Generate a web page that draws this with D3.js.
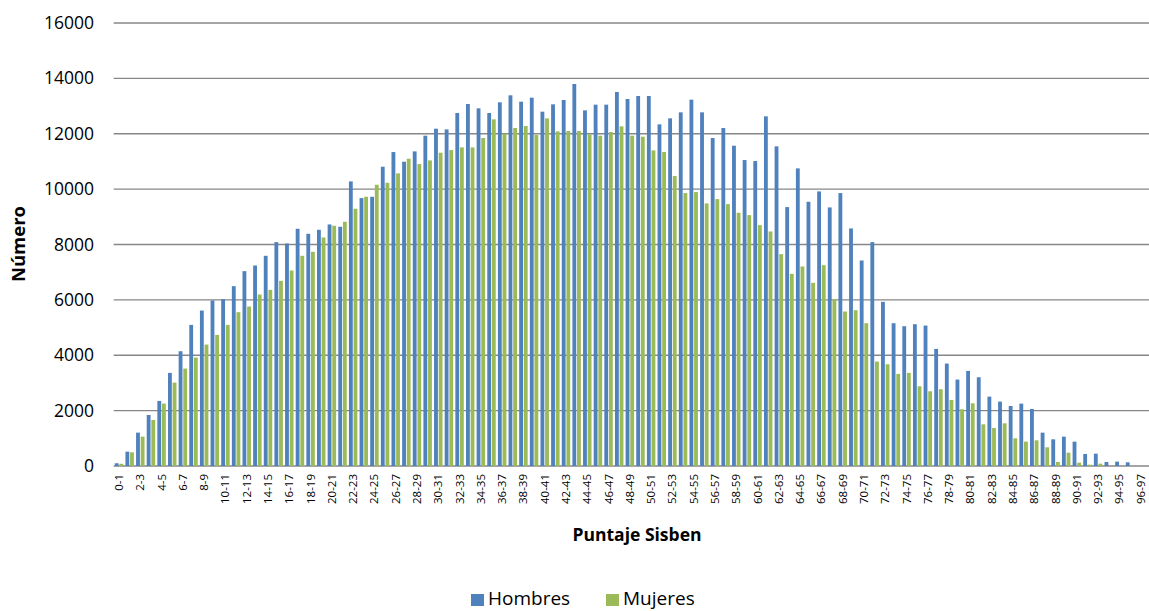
<!DOCTYPE html>
<html><head><meta charset="utf-8">
<script src="https://cdn.jsdelivr.net/npm/d3@7"></script>
<style>body{margin:0;background:#fff;} text{font-family:"Open Sans","Noto Sans",sans-serif;}</style>
</head><body><svg id="c" width="1149" height="611"></svg>
<script>
const categories = Array.from({length:97}, (_, i) => `${i}-${i+1}`);
const hombres = [100,518,1205,1843,2350,3362,4145,5097,5615,5977,6025,6495,7037,7242,7592,8086,8037,8568,8387,8531,8724,8640,10279,9676,9724,10809,11339,10990,11363,11930,12183,12158,12749,13074,12918,12749,13135,13388,13159,13304,12797,13062,13219,13797,12845,13050,13050,13508,13255,13363,13363,12339,12556,12773,13231,12773,11845,12207,11568,11050,11014,12629,11544,9351,10749,9544,9917,9339,9857,8580,7423,8086,5929,5157,5049,5121,5073,4230,3699,3121,3434,3205,2506,2326,2169,2253,2060,1205,964,1060,880,434,446,145,157,133,0];
const mujeres = [80,494,1060,1663,2253,3012,3518,3916,4386,4736,5097,5555,5760,6194,6362,6688,7061,7592,7736,8254,8676,8821,9291,9724,10158,10230,10568,11098,10905,11038,11315,11411,11508,11508,11845,12520,12002,12207,12279,11954,12556,12086,12098,12098,11978,11930,12062,12267,11930,11893,11399,11339,10472,9857,9893,9484,9640,9459,9146,9062,8700,8471,7652,6941,7206,6616,7254,6025,5579,5627,5157,3772,3675,3326,3362,2880,2699,2772,2386,2049,2265,1506,1374,1542,1000,880,928,675,145,482,120,48,84,0,0,0,0];
const yTicks = [0,2000,4000,6000,8000,10000,12000,14000,16000];
const seriesNames = ["Hombres","Mujeres"];
const colors = ["#4F81BD","#9BBB59"];

(function(){
const svg = d3.select("#c");
const mLeft = 113.7, mRight = 1146, mTop = 23, mBottom = 466;
const x = d3.scaleBand().domain(categories).range([mLeft, mRight]).paddingInner(0).paddingOuter(0);
const y = d3.scaleLinear().domain([0,16000]).range([mBottom, mTop]);
const bw = x.bandwidth();
const barW = bw * 0.36;

svg.append("g").selectAll("line").data(yTicks).join("line")
  .attr("x1", mLeft).attr("x2", 1149).attr("y1", d => y(d)).attr("y2", d => y(d))
  .attr("stroke", "#878787").attr("stroke-width", 1.3);

const yAxis = d3.axisLeft(y).tickValues(yTicks).tickSize(0).tickPadding(0).tickFormat(d3.format("d"));
const ya = svg.append("g").attr("transform", `translate(94,0)`).call(yAxis);
ya.select(".domain").remove();
ya.selectAll("text").attr("font-size", 17.5).attr("fill", "#000").attr("font-family", "'Open Sans',sans-serif");

const data = categories.map((c, i) => ({c, v: [hombres[i], mujeres[i]]}));
const g = svg.append("g");
[0,1].forEach(s => {
  g.selectAll(".b"+s).data(data).join("rect").attr("class","b"+s)
    .attr("x", d => x(d.c) + bw/2 - barW + s*barW + (s===0 ? -0.4 : 0.4))
    .attr("width", barW)
    .attr("y", d => y(d.v[s]))
    .attr("height", d => mBottom - y(d.v[s]))
    .attr("fill", colors[s]);
});

const xAxis = d3.axisBottom(x).tickValues(categories.filter((d,i)=> i%2===0)).tickSize(0).tickPadding(0);
const xa = svg.append("g").attr("transform", `translate(0,${mBottom})`).call(xAxis);
xa.select(".domain").remove();
xa.selectAll("text")
  .attr("font-size", 11.5).attr("fill", "#000")
  .attr("transform", "rotate(-90)")
  .attr("text-anchor", "end")
  .attr("x", -8).attr("y", 0).attr("dy", "0.35em");

svg.append("text").attr("transform", "translate(25,244) rotate(-90)")
  .attr("text-anchor", "middle").attr("font-size", 18.5).attr("font-weight", "bold").text("Número");
svg.append("text").attr("x", 637).attr("y", 541)
  .attr("text-anchor", "middle").attr("font-size", 17.5).attr("font-weight", "bold").text("Puntaje Sisben");

const lg = svg.append("g");
const legX = [471, 606];
seriesNames.forEach((n, i) => {
  lg.append("rect").attr("x", legX[i]).attr("y", 594).attr("width", 13).attr("height", 12).attr("fill", colors[i]);
  lg.append("text").attr("x", legX[i] + 17).attr("y", 605).attr("font-size", 19).attr("fill", "#000").text(n);
});
})();
</script></body></html>
